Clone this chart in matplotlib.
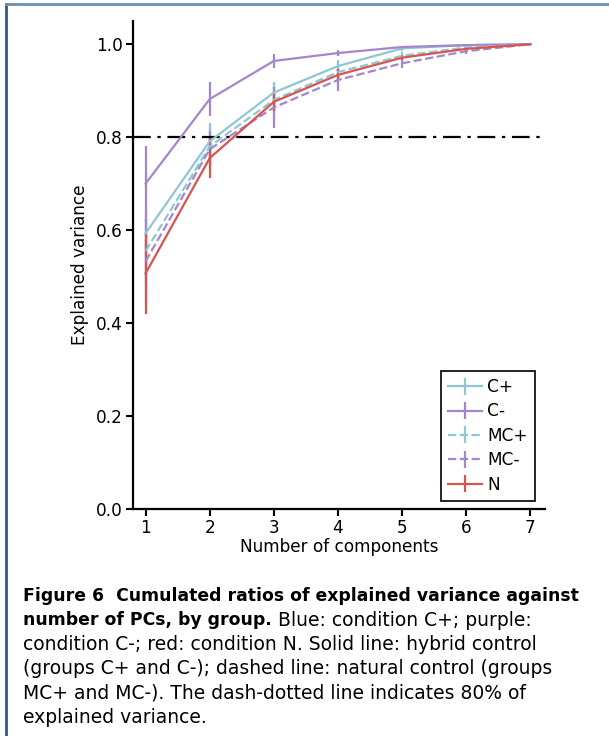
import numpy as np
import matplotlib
matplotlib.use("Agg")
from matplotlib import pyplot as plt
from matplotlib.lines import Line2D

plt.rcParams['font.family'] = ['DejaVu Sans']

components = [1, 2, 3, 4, 5, 6, 7]
groups = ["C+", "C-", "MC+", "MC-", "N"]

c_plus = [0.593, 0.791, 0.896, 0.953, 0.991, 0.998, 1.0]
c_plus_err = [0.05, 0.04, 0.023, 0.012, 0.005, 0.002, 0.0]
c_minus = [0.700, 0.882, 0.964, 0.981, 0.994, 0.998, 1.0]
c_minus_err = [0.08, 0.037, 0.015, 0.007, 0.003, 0.001, 0.0]
mc_plus = [0.555, 0.780, 0.880, 0.940, 0.975, 0.993, 1.0]
mc_plus_err = [0.07, 0.04, 0.03, 0.018, 0.009, 0.004, 0.0]
mc_minus = [0.533, 0.774, 0.864, 0.923, 0.959, 0.985, 1.0]
mc_minus_err = [0.09, 0.04, 0.045, 0.023, 0.011, 0.005, 0.0]
n_vals = [0.507, 0.755, 0.876, 0.934, 0.971, 0.990, 1.0]
n_err = [0.087, 0.043, 0.02, 0.012, 0.006, 0.003, 0.0]

BLUE = "#8ec6d4"
PURPLE = "#a586cc"
RED = "#d9534f"

series = [
    (c_plus, c_plus_err, BLUE, "-"),
    (c_minus, c_minus_err, PURPLE, "-"),
    (mc_plus, mc_plus_err, BLUE, "--"),
    (mc_minus, mc_minus_err, PURPLE, "--"),
    (n_vals, n_err, RED, "-"),
]

FS = 12.2

fig = plt.figure(figsize=(6.09, 7.36), dpi=100)
ax = fig.add_axes([0.218, 0.3084, 0.677, 0.6631])

for (vals, err, col, ls), name in zip(series, groups):
    ax.errorbar(components, vals, yerr=err, color=col, ls=ls, lw=1.6,
                elinewidth=1.6, capsize=0, label=name)

ax.axhline(0.8, color="black", ls="-.", lw=1.6, dashes=(8, 3, 1.5, 3))

ax.set_xlim(0.8, 7.23)
ax.set_ylim(0.0, 1.05)
ax.set_xticks(components)
ax.set_yticks([0.0, 0.2, 0.4, 0.6, 0.8, 1.0])
ax.set_xlabel("Number of components", fontsize=FS, labelpad=1)
ax.set_ylabel("Explained variance", fontsize=FS, labelpad=5)
ax.tick_params(labelsize=FS, width=1.5, length=5, pad=2)
for s in ["top", "right"]:
    ax.spines[s].set_visible(False)
for s in ["left", "bottom"]:
    ax.spines[s].set_linewidth(1.6)

leg = ax.legend(loc="lower right", fontsize=FS, fancybox=False,
                framealpha=1, edgecolor="black", handlelength=2.0,
                handletextpad=0.3, borderpad=0.4, labelspacing=0.38,
                bbox_to_anchor=(0.995, 0.0))
leg.get_frame().set_linewidth(1.2)

# border of the figure box
fig.add_artist(Line2D([6 / 609, 6 / 609], [0, 1 - 4 / 736],
                      transform=fig.transFigure, color="#2b5a8a", lw=2))
fig.add_artist(Line2D([6 / 609, 1], [1 - 4 / 736, 1 - 4 / 736],
                      transform=fig.transFigure, color="#6f8fae", lw=2))

# caption, bold part followed by regular text
cap_font = "DejaVu Sans"
x0 = 23 / 609
lines = [
    [("Figure 6  Cumulated ratios of explained variance against", "bold")],
    [("number of PCs, by group.", "bold"), (" Blue: condition C+; purple:", "normal")],
    [("condition C-; red: condition N. Solid line: hybrid control", "normal")],
    [("(groups C+ and C-); dashed line: natural control (groups", "normal")],
    [("MC+ and MC-). The dash-dotted line indicates 80% of", "normal")],
    [("explained variance.", "normal")],
]
fig.canvas.draw()
renderer = fig.canvas.get_renderer()
# fit caption sizes: regular third line ~515 px, bold first line ~549 px
probe = fig.text(0, 0, lines[2][0][0], fontsize=13, family=cap_font)
fs = 13 * 515 / probe.get_window_extent(renderer).width
probe.remove()
probe = fig.text(0, 0, lines[0][0][0], fontsize=13, family=cap_font,
                 weight="bold")
fs_bold = 13 * 549 / probe.get_window_extent(renderer).width
probe.remove()

y_px = 596
for parts in lines:
    x = x0
    for txt, weight in parts:
        size = fs_bold if weight == "bold" else fs
        t = fig.text(x, 1 - y_px / 736, txt, fontsize=size, family=cap_font,
                     weight=weight, va="center", ha="left")
        bb = t.get_window_extent(renderer)
        x = bb.x1 / fig.bbox.width
    y_px += 24.2

fig.savefig("out.png", dpi=100)
